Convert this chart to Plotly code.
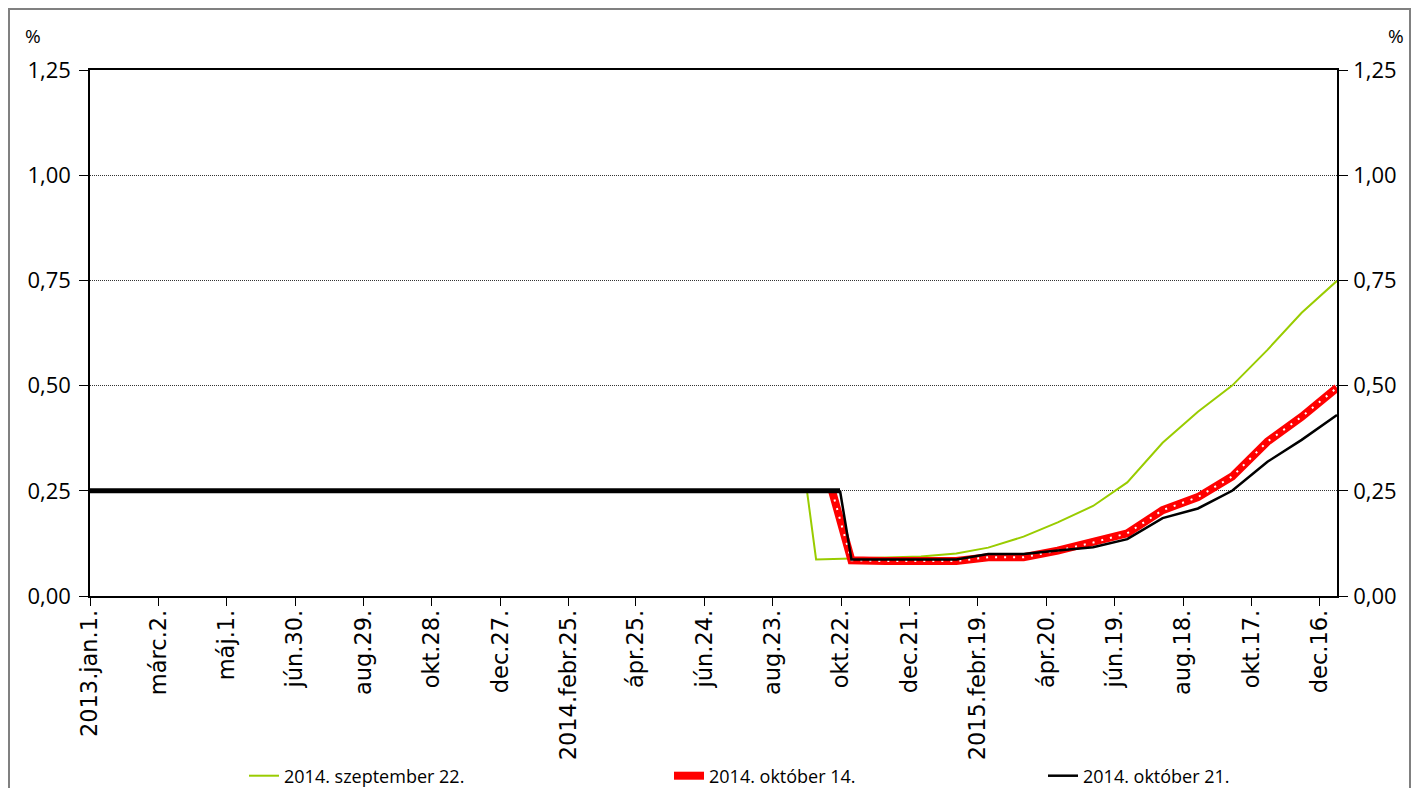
import plotly.graph_objects as go

# ---- data ----
tick_dates = ["2013-01-01", "2013-03-02", "2013-05-01", "2013-06-30", "2013-08-29",
              "2013-10-28", "2013-12-27", "2014-02-25", "2014-04-25", "2014-06-24",
              "2014-08-23", "2014-10-22", "2014-12-21", "2015-02-19", "2015-04-20",
              "2015-06-19", "2015-08-18", "2015-10-17", "2015-12-16"]
tick_labels = ["2013.jan.1.", "márc.2.", "máj.1.", "jún.30.", "aug.29.", "okt.28.",
               "dec.27.", "2014.febr.25.", "ápr.25.", "jún.24.", "aug.23.", "okt.22.",
               "dec.21.", "2015.febr.19.", "ápr.20.", "jún.19.", "aug.18.", "okt.17.",
               "dec.16."]

hist_dates = ["2013-01-01", "2014-10-21"]
hist_vals = [0.25, 0.25]

month_ends = ["2014-10-31", "2014-11-30", "2014-12-31", "2015-01-31", "2015-02-28",
              "2015-03-31", "2015-04-30", "2015-05-31", "2015-06-30", "2015-07-31",
              "2015-08-31", "2015-09-30", "2015-10-31", "2015-11-30", "2015-12-31"]

sep22_dates = ["2014-09-22", "2014-09-30"] + month_ends
sep22_vals = [0.25, 0.087, 0.089, 0.091, 0.094, 0.101, 0.115, 0.141, 0.175, 0.214,
              0.270, 0.364, 0.438, 0.500, 0.585, 0.673, 0.749]

oct14_dates = ["2014-10-14"] + month_ends
oct14_vals = [0.25, 0.085, 0.083, 0.083, 0.083, 0.092, 0.092, 0.108, 0.127, 0.149,
              0.204, 0.235, 0.284, 0.367, 0.426, 0.495]

oct21_dates = ["2014-10-21"] + month_ends
oct21_vals = [0.25, 0.087, 0.087, 0.087, 0.087, 0.100, 0.100, 0.108, 0.116, 0.135,
              0.185, 0.208, 0.250, 0.319, 0.371, 0.430]

y_ticks = [0, 0.25, 0.5, 0.75, 1.0, 1.25]
y_labels = ["0,00", "0,25", "0,50", "0,75", "1,00", "1,25"]

# ---- figure ----
fig = go.Figure()
fig.add_trace(go.Scatter(x=sep22_dates, y=sep22_vals, mode="lines",
                         line=dict(color="#99CC00", width=2),
                         name="2014. szeptember 22.", legend="legend"))
fig.add_trace(go.Scatter(x=oct14_dates, y=oct14_vals, mode="lines",
                         line=dict(color="#FF0000", width=8),
                         name="2014. október 14.", legend="legend2"))
fig.add_trace(go.Scatter(x=oct14_dates, y=oct14_vals, mode="lines",
                         line=dict(color="#FFFFFF", width=2, dash="2px,7px"),
                         showlegend=False, hoverinfo="skip"))
fig.add_trace(go.Scatter(x=oct21_dates, y=oct21_vals, mode="lines",
                         line=dict(color="#000000", width=2.5),
                         name="2014. október 21.", legend="legend3"))
fig.add_trace(go.Scatter(x=hist_dates, y=hist_vals, mode="lines",
                         line=dict(color="#000000", width=5),
                         showlegend=False, hoverinfo="skip"))
fig.add_trace(go.Scatter(x=[hist_dates[0]], y=[None], yaxis="y2",
                         showlegend=False, hoverinfo="skip"))

tickfont_y = dict(family="Open Sans, Liberation Sans, sans-serif", size=22, color="black")
legfont = dict(family="Open Sans, sans-serif", size=18, color="black")

OFF = 8  # page body margin
W, H = 1403, 780
L, R, T, B = 82, 74, 62, 192
pw, ph = W - L - R, H - T - B


def px_x(x):  # absolute window px -> paper x
    return (x - OFF - L) / pw


def px_y(y):  # absolute window px -> paper y
    return (H - B - (y - OFF)) / ph


leg_y = px_y(776)

fig.update_layout(
    width=W, height=H,
    margin=dict(l=L, r=R, t=T, b=B, autoexpand=False),
    paper_bgcolor="white", plot_bgcolor="white",
    xaxis=dict(type="date", range=["2013-01-01", "2015-12-31"],
               tickmode="array", tickvals=tick_dates, ticktext=tick_labels,
               tickangle=-90, ticks="outside", ticklen=8, tickcolor="black",
               showline=True, linecolor="black", linewidth=1.5, mirror=True,
               showgrid=False, ticklabelstandoff=-5,
               tickfont=dict(family="DejaVu Sans, sans-serif", size=22.5, color="black")),
    yaxis=dict(range=[0, 1.25], tickmode="array", tickvals=y_ticks, ticktext=y_labels,
               ticks="outside", ticklen=9, tickcolor="black",
               showline=True, linecolor="black", linewidth=1.5,
               showgrid=True, gridcolor="#333333", gridwidth=1, griddash="1px,1px",
               zeroline=False, tickfont=tickfont_y, ticklabelstandoff=4),
    yaxis2=dict(range=[0, 1.25], overlaying="y", side="right", tickmode="array",
                tickvals=y_ticks, ticktext=y_labels,
                ticks="outside", ticklen=9, tickcolor="black",
                showline=True, linecolor="black", linewidth=1.5,
                showgrid=False, zeroline=False, tickfont=tickfont_y, ticklabelstandoff=1),
    legend=dict(x=px_x(244), y=leg_y, xanchor="left", yanchor="middle", orientation="h",
                bgcolor="rgba(0,0,0,0)", font=legfont),
    legend2=dict(x=px_x(669), y=leg_y, xanchor="left", yanchor="middle", orientation="h",
                 bgcolor="rgba(0,0,0,0)", font=legfont),
    legend3=dict(x=px_x(1043), y=leg_y, xanchor="left", yanchor="middle", orientation="h",
                 bgcolor="rgba(0,0,0,0)", font=legfont),
    annotations=[
        dict(text="%", x=px_x(33), y=px_y(36), xref="paper", yref="paper",
             xanchor="center", yanchor="middle",
             showarrow=False, font=dict(family="Open Sans, sans-serif", size=19, color="black")),
        dict(text="%", x=px_x(1396), y=px_y(36), xref="paper", yref="paper",
             xanchor="center", yanchor="middle",
             showarrow=False, font=dict(family="Open Sans, sans-serif", size=19, color="black")),
    ],
    shapes=[dict(type="rect", xref="paper", yref="paper",
                 x0=px_x(9), x1=px_x(1410), y0=px_y(820), y1=px_y(9),
                 line=dict(color="#808080", width=2), fillcolor="rgba(0,0,0,0)")],
)

fig.write_html("out.html")
